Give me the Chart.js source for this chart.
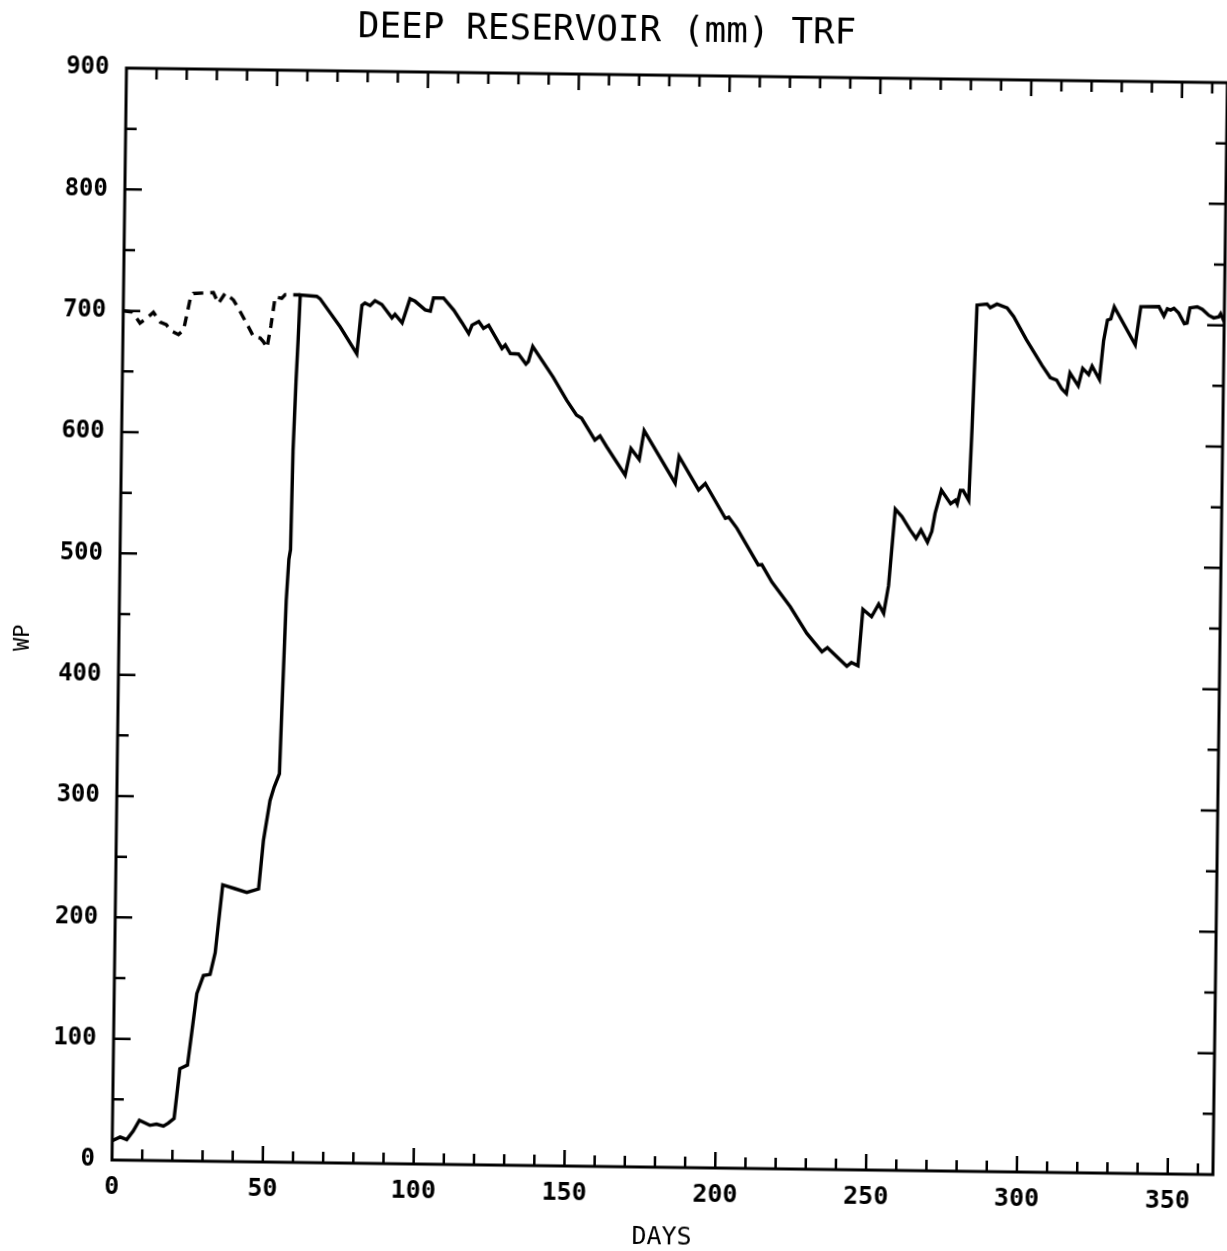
<!DOCTYPE html>
<html>
<head>
<meta charset="utf-8">
<script src="https://cdn.jsdelivr.net/npm/chart.js@4.4.0/dist/chart.umd.min.js"></script>
<style>
  html, body { margin: 0; background: #fff; overflow: hidden; }
  #wrap { width: 1227px; height: 1251px; }
  /* the scanned plot sits slightly skewed */
  #chart { transform: rotate(0.76deg); transform-origin: 112px 1160px; }
</style>
</head>
<body>
<div id="wrap"><canvas id="chart" width="1227" height="1251"></canvas></div>
<script>
// solid curve (days / WP mm)
const solidDays = [0, 2.6, 4.8, 6.9, 8.9, 12.4, 14.6, 16.9, 18.5, 20.4, 22.1, 24.6, 27.4, 29.5, 31.7, 33.3, 35.5, 39.5, 43.5, 47.4,
  48.8, 50.8, 52.1, 53.8, 54.3, 55.3, 56.0, 56.5, 56.9, 57.6, 58.1, 58.6, 64.1, 65.2, 72, 77.6, 79.1, 80.1, 81.8, 83.4,
  85.7, 89.1, 90.1, 92.5, 95.0, 96.7, 100.1, 101.8, 102.8, 106.1, 109.6, 112.3, 114.6, 115.7, 117.9, 119.5, 121.2, 125.7, 126.8, 128.5,
  131.2, 133.7, 134.5, 135.9, 142.8, 147.4, 150.7, 152.4, 156.9, 158.6, 160.9, 167.1, 168.9, 171.7, 173.2, 183.7, 184.9, 191.5, 193.7, 200.5,
  201.6, 204.4, 211.6, 212.8, 216.2, 222.4, 228.0, 233.1, 234.9, 241.4, 242.9, 245.1, 246.5, 249.4, 251.7, 253.4, 254.9, 256.8, 259.0, 261.8,
  263.8, 265.4, 267.6, 269.0, 270.0, 272.0, 275.1, 276.7, 277.3, 278.3, 279.2, 281.1, 281.9, 283.0, 286.3, 287.4, 289.6, 293.0, 295.2, 299.5,
  304.8, 307.6, 309.7, 311.4, 313.0, 314.1, 316.9, 318.3, 320.3, 321.4, 323.9, 325.1, 326.3, 327.4, 328.5, 335.6, 337.3, 343.3, 345.0, 346.1,
  347.2, 348.3, 349.9, 351.8, 352.7, 353.6, 356.0, 357.7, 359.9, 361.5, 363.2, 363.8, 365];
const solidWp = [16, 19, 17, 24, 33, 29, 30, 28.5, 31, 35, 76, 79, 138, 153, 154, 172, 228, 225, 222, 225,
  265, 298, 309, 320, 370, 463, 497, 505, 587, 645, 678, 715, 714, 712, 689, 667, 707, 709, 707, 711,
  708, 697, 700, 693, 713, 711, 704, 703, 714, 714, 704, 694, 685, 692, 695, 689.5, 692, 673, 676, 669,
  668.6, 660.5, 662.6, 675, 650, 631, 619, 616.5, 598.6, 602, 593, 570, 592, 583, 607, 564, 586, 558.6, 564, 535.5,
  536.5, 527.4, 497.4, 497.7, 483.5, 463.4, 441.6, 426.6, 430, 415, 418, 415.5, 462, 456, 466.5, 459, 482, 545, 539, 528,
  521, 528, 518, 527, 542, 561, 550, 553, 550, 561, 561, 553, 614, 714, 715, 712, 715, 712, 705, 686,
  665, 655, 653, 646, 642, 659, 648.5, 663, 658, 665, 654, 686, 703, 704, 714, 683, 714.5, 714.7, 707, 713,
  712, 713.5, 709.5, 701, 701.5, 714, 715, 713, 708, 706, 707, 709.5, 703];

// dashed curve, early days only
const dashDays = [0, 3, 5.6, 7.3, 10, 12.3, 14.3, 16, 18.4, 20.1, 22.1, 23.2, 29.8, 31.5, 33.7, 36.5, 38.2, 41.6, 43.3, 45.5,
  46.6, 47.8, 49, 50.3, 52.5, 53.6, 58.6];
const dashWp = [700, 699, 690, 693, 699, 691, 689, 684, 681, 685, 710, 715, 716, 707, 715.5, 710, 703, 688, 680, 679,
  676, 671, 689, 713, 712, 715, 715];

const xTicks = [0, 50, 100, 150, 200, 250, 300, 350];
const yTicks = [0, 100, 200, 300, 400, 500, 600, 700, 800, 900];

const toPoints = (xs, ys) => xs.map((d, i) => ({ x: d, y: ys[i] }));

// frame, inward ticks and free texts
const framePlugin = {
  id: 'frame',
  afterDatasetsDraw(chart) {
    const ctx = chart.ctx;
    const a = chart.chartArea;
    const x = chart.scales.x;
    const y = chart.scales.y;
    ctx.save();
    ctx.strokeStyle = '#000';
    ctx.lineWidth = 3;
    ctx.strokeRect(a.left, a.top, a.right - a.left, a.bottom - a.top);

    ctx.lineWidth = 2.5;
    ctx.beginPath();
    for (let d = 10; d < 365; d += 10) {
      const px = x.getPixelForValue(d);
      const len = d % 50 === 0 ? 16 : 11;
      ctx.moveTo(px, a.bottom);
      ctx.lineTo(px, a.bottom - len);
      ctx.moveTo(px, a.top);
      ctx.lineTo(px, a.top + len);
    }
    for (let v = 50; v < 900; v += 50) {
      const py = y.getPixelForValue(v);
      const len = v % 100 === 0 ? 17 : 11;
      ctx.moveTo(a.left, py);
      ctx.lineTo(a.left + len, py);
      ctx.moveTo(a.right, py);
      ctx.lineTo(a.right - len, py);
    }
    ctx.stroke();

    ctx.fillStyle = '#000';
    ctx.textAlign = 'center';
    ctx.textBaseline = 'middle';
    ctx.font = '36px "DejaVu Sans Mono"';
    ctx.fillText('DEEP RESERVOIR (mm) TRF', 592, 25);

    ctx.translate(16, 639);
    ctx.rotate(-Math.PI / 2);
    ctx.font = '22px "DejaVu Sans Mono"';
    ctx.fillText('WP', 0, 0);
    ctx.restore();
  }
};

new Chart(document.getElementById('chart'), {
  type: 'line',
  data: {
    datasets: [
      {
        label: 'dashed',
        data: toPoints(dashDays, dashWp),
        borderColor: '#000',
        borderWidth: 3.4,
        borderDash: [10, 7],
        pointRadius: 0,
        tension: 0
      },
      {
        label: 'WP',
        data: toPoints(solidDays, solidWp),
        borderColor: '#000',
        borderWidth: 3.4,
        pointRadius: 0,
        tension: 0
      }
    ]
  },
  options: {
    responsive: false,
    animation: false,
    layout: { padding: { top: 68, right: 14, left: 0, bottom: 0 } },
    plugins: {
      legend: { display: false },
      tooltip: { enabled: false }
    },
    scales: {
      x: {
        type: 'linear',
        min: 0,
        max: 365,
        grid: { display: false, drawTicks: false },
        border: { display: false },
        afterBuildTicks: (s) => { s.ticks = xTicks.map(v => ({ value: v })); },
        afterFit: (s) => { s.height = 91; },
        ticks: {
          padding: 12,
          autoSkip: false,
          maxRotation: 0,
          color: '#000',
          font: { family: 'DejaVu Sans Mono', size: 25, weight: 'bold' }
        },
        title: {
          display: true,
          text: 'DAYS',
          color: '#000',
          padding: { top: 0, bottom: 6 },
          font: { family: 'DejaVu Sans Mono', size: 25 }
        }
      },
      y: {
        min: 0,
        max: 900,
        grid: { display: false, drawTicks: false },
        border: { display: false },
        afterBuildTicks: (s) => { s.ticks = yTicks.map(v => ({ value: v })); },
        afterFit: (s) => { s.width = 112; },
        ticks: {
          padding: 17,
          color: '#000',
          font: { family: 'DejaVu Sans Mono', size: 24, weight: 'bold' }
        }
      }
    }
  },
  plugins: [framePlugin]
});
</script>
</body>
</html>
